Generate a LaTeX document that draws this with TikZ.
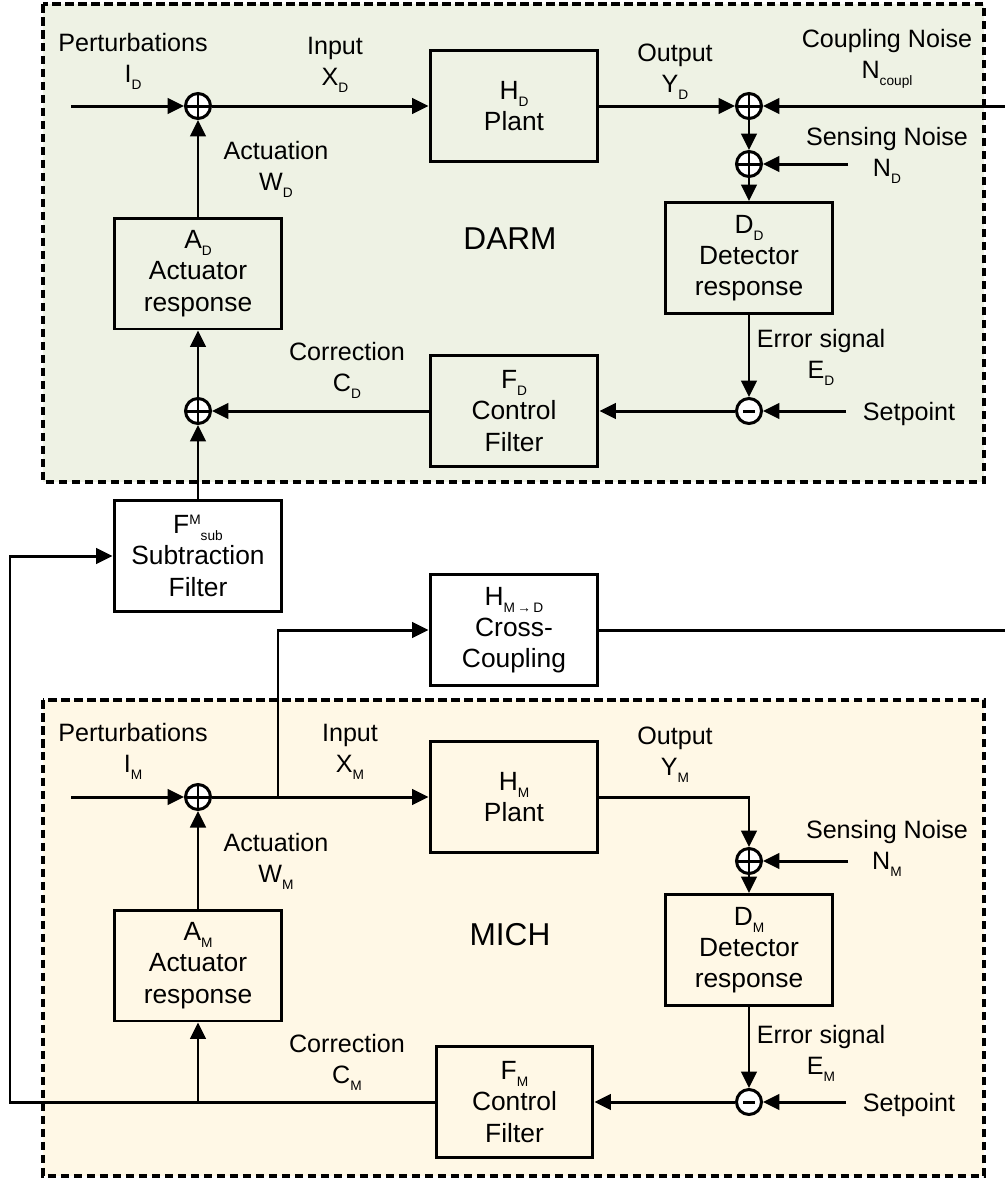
\documentclass[tikz,border=0pt]{standalone}
\usepackage{fontspec}
\setmainfont{Liberation Sans}
\usepackage{xcolor}
\definecolor{darmbg}{HTML}{EEF2E4}
\definecolor{michbg}{HTML}{FFF8E6}
\usepackage{tikz}
\usetikzlibrary{arrows.meta,positioning,calc}
\tikzset{
  >={Triangle[length=0.33cm,width=0.31cm]},
  sig/.style={->,line width=1.7pt},
  wire/.style={line width=1.7pt},
  blk/.style={draw,line width=1.7pt,minimum width=3.36cm,minimum height=2.22cm,inner sep=1pt,align=center,font=\fontsize{15}{17.8}\selectfont},
  sumop/.style={circle,draw,line width=1.7pt,fill=white,minimum size=0.5cm,inner sep=0pt,
    path picture={\draw[line width=1.7pt] (path picture bounding box.north) -- (path picture bounding box.south)
      (path picture bounding box.west) -- (path picture bounding box.east);}},
  difop/.style={circle,draw,line width=1.7pt,fill=white,minimum size=0.5cm,inner sep=0pt,
    path picture={\draw[line width=1.7pt] ($(path picture bounding box.center)+(-0.12cm,0)$) -- ($(path picture bounding box.center)+(0.12cm,0)$);}},
  lbl/.style={anchor=base,align=center,inner sep=0pt,font=\fontsize{14.3}{17.1}\selectfont},
  ttl/.style={anchor=base,inner sep=0pt,font=\fontsize{18}{20}\selectfont},
  frame/.style={line width=1.8pt,dash pattern=on 0.17cm off 0.09cm},
}
\newcommand{\lsub}[1]{\raisebox{-4pt}{\fontsize{7.8}{8}\selectfont #1}}
\newcommand{\lsup}[1]{\raisebox{5pt}{\fontsize{7.8}{8}\selectfont #1}}

\begin{document}
\begin{tikzpicture}[x=0.02cm,y=-0.02cm]
  \useasboundingbox (0,0) rectangle (1005,1178);
  \draw[frame,fill=darmbg] (43,4) rectangle (984,482);
  \draw[frame,fill=michbg] (43,700) rectangle (984,1176);

  % DARM loop
  \node[blk] (plantD) at (514,106) {H\lsub{D}\\Plant};
  \node[blk] (actD) at (198,273.5) {A\lsub{D}\\Actuator\\response};
  \node[blk] (detD) at (749,258) {D\lsub{D}\\Detector\\response};
  \node[blk] (filtD) at (514,411) {F\lsub{D}\\Control\\Filter};
  \node[sumop] (inD) at (198,106) {};
  \node[sumop] (outD) at (749,106) {};
  \node[sumop] (senD) at (749,164) {};
  \node[difop] (errD) at (749,411) {};
  \node[sumop] (corD) at (198,411) {};
  \coordinate (pertD) at (71,106);
  \coordinate (cplIn) at (1005,106);
  \coordinate (nsD) at (848,164);
  \coordinate (spD) at (846,411);

  \node[lbl] at (133,82) {Perturbations\\I\lsub{D}};
  \node[lbl] at (335,85) {Input\\X\lsub{D}};
  \node[lbl] at (276,190) {Actuation\\W\lsub{D}};
  \node[lbl] at (675,92) {Output\\Y\lsub{D}};
  \node[lbl] at (887,78) {Coupling Noise\\N\lsub{coupl}};
  \node[lbl] at (887,176) {Sensing Noise\\N\lsub{D}};
  \node[lbl] at (347,391) {Correction\\C\lsub{D}};
  \node[lbl] at (821,378) {Error signal\\E\lsub{D}};
  \node[lbl] at (909,420) {Setpoint};
  \node[ttl] at (510,249) {DARM};

  \draw[sig] (pertD) -- (inD);
  \draw[sig] (inD) -- (plantD);
  \draw[sig] (plantD) -- (outD);
  \draw[sig] (cplIn) -- (outD);
  \draw[sig] (outD) -- (senD);
  \draw[sig] (nsD) -- (senD);
  \draw[sig] (senD) -- (detD);
  \draw[sig] (detD) -- (errD);
  \draw[sig] (spD) -- (errD);
  \draw[sig] (errD) -- (filtD);
  \draw[sig] (filtD) -- (corD);
  \draw[sig] (corD) -- (actD);
  \draw[sig] (actD) -- (inD);

  % between the loops
  \node[blk] (subF) at (198,556) {F\lsup{M}\lsub{sub}\\Subtraction\\Filter};
  \node[blk] (crossC) at (514,630) {H\lsub{M\,→\,D}\\Cross-\\Coupling};
  \coordinate (cplOut) at (1005,630);
  \draw[sig] (subF) -- (corD);

  % MICH loop
  \node[blk] (plantM) at (514,797) {H\lsub{M}\\Plant};
  \node[blk] (actM) at (198,965.5) {A\lsub{M}\\Actuator\\response};
  \node[blk] (detM) at (749,950) {D\lsub{M}\\Detector\\response};
  \node[blk,minimum width=3.14cm] (filtM) at (514.5,1102) {F\lsub{M}\\Control\\Filter};
  \node[sumop] (inM) at (198,797) {};
  \node[sumop] (senM) at (749,861) {};
  \node[difop] (errM) at (749,1102) {};
  \coordinate (pertM) at (71,797);
  \coordinate (tapM) at (278,797);
  \coordinate (nsM) at (848,861);
  \coordinate (spM) at (846,1102);
  \coordinate (corM) at (198,1102);
  \coordinate (loopL) at (10,1102);

  \node[lbl] at (133,772) {Perturbations\\I\lsub{M}};
  \node[lbl] at (350,772) {Input\\X\lsub{M}};
  \node[lbl] at (276,882) {Actuation\\W\lsub{M}};
  \node[lbl] at (675,775) {Output\\Y\lsub{M}};
  \node[lbl] at (887,869) {Sensing Noise\\N\lsub{M}};
  \node[lbl] at (347,1083) {Correction\\C\lsub{M}};
  \node[lbl] at (821,1074) {Error signal\\E\lsub{M}};
  \node[lbl] at (909,1111) {Setpoint};
  \node[ttl] at (510,945) {MICH};

  \draw[sig] (pertM) -- (inM);
  \draw[sig] (inM) -- (plantM);
  \draw[sig] (tapM) |- (crossC);
  \draw[wire] (crossC) -- (cplOut);
  \draw[sig] (plantM) -| (senM);
  \draw[sig] (nsM) -- (senM);
  \draw[sig] (senM) -- (detM);
  \draw[sig] (detM) -- (errM);
  \draw[sig] (spM) -- (errM);
  \draw[sig] (errM) -- (filtM);
  \draw[sig] (filtM) -- (loopL) |- (subF);
  \draw[sig] (corM) -- (actM);
  \draw[sig] (actM) -- (inM);
\end{tikzpicture}
\end{document}
